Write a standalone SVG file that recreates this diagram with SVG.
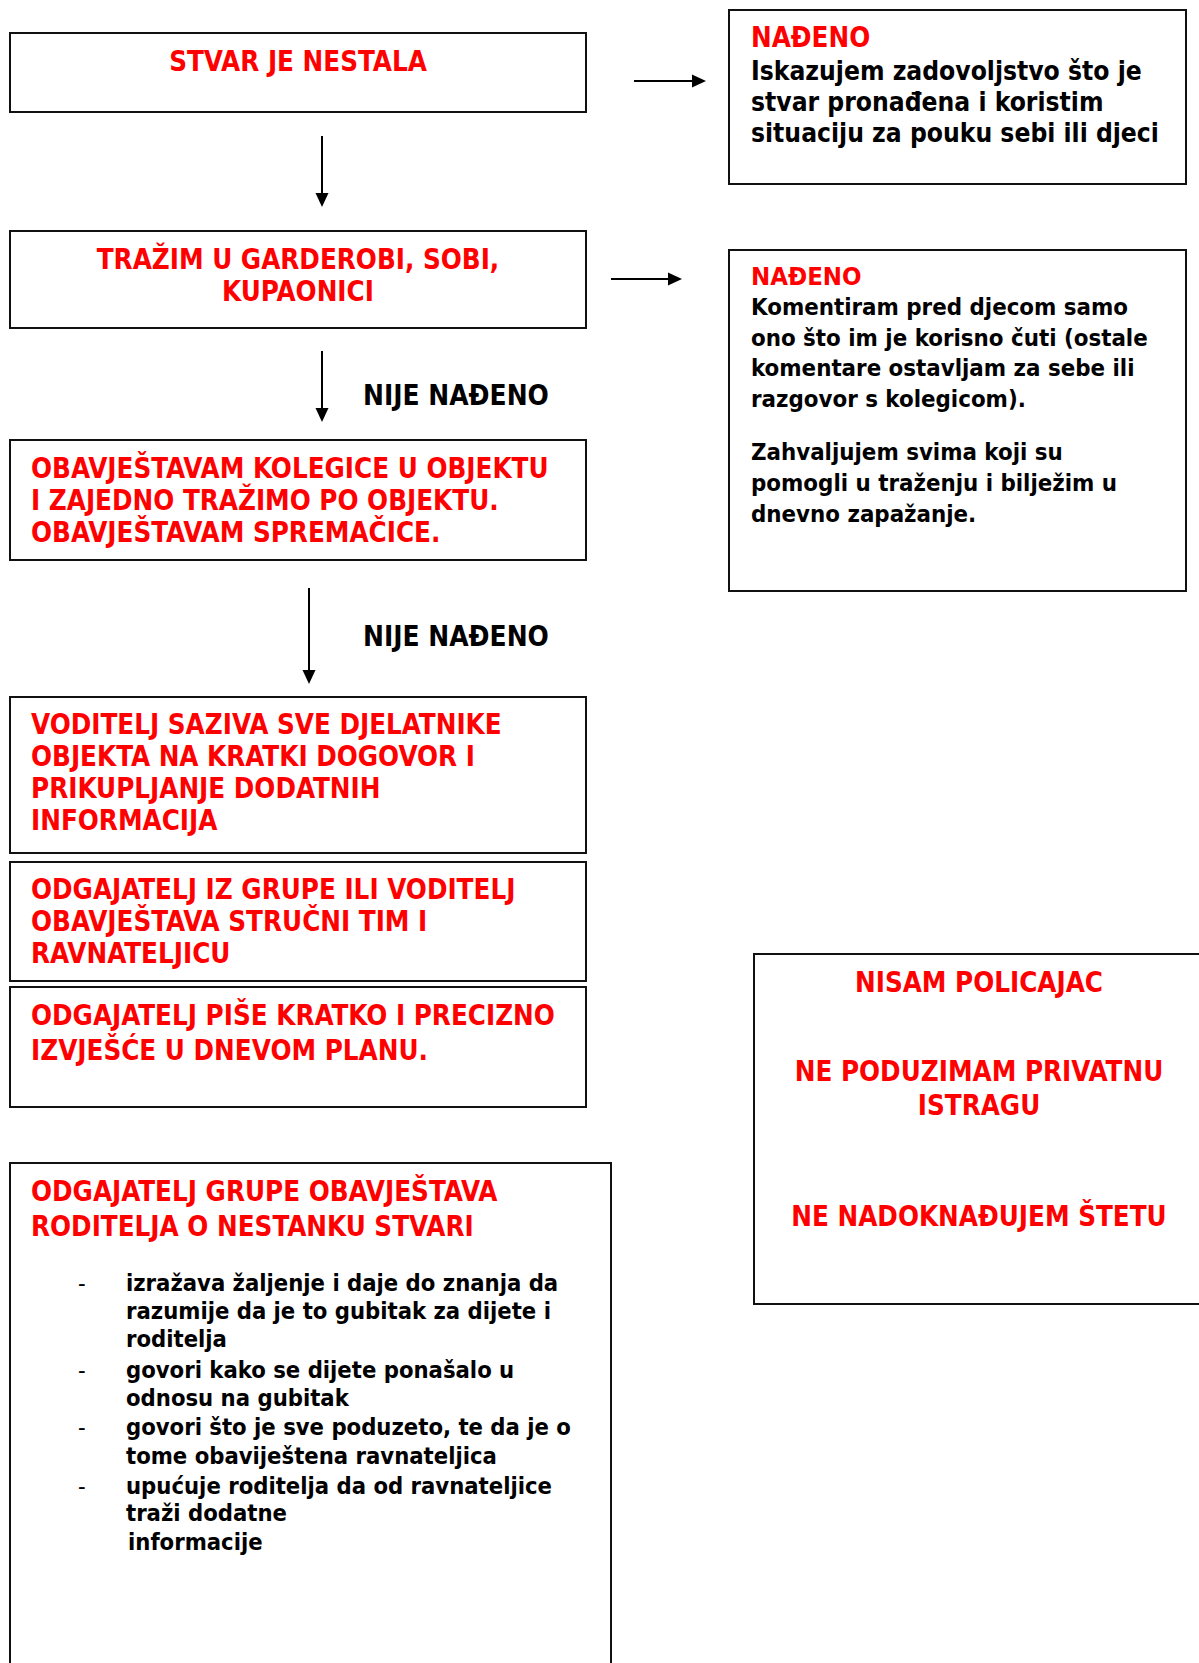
<svg xmlns="http://www.w3.org/2000/svg" width="1199" height="1663" viewBox="0 0 1199 1663">
<style>
text{font-family:"DejaVu Sans Condensed","DejaVu Sans","Liberation Sans",sans-serif;font-weight:bold;font-stretch:condensed}
.r{fill:#ff0000;font-size:27.5px}
.r2{fill:#ff0000;font-size:25.5px}
.k{fill:#000;font-size:26.2px}
.kl{fill:#000;font-size:27.8px}
.k2{fill:#000;font-size:23.8px}
.k3{fill:#000;font-size:23.6px}
.c{text-anchor:middle}
.box{fill:#fff;stroke:#111;stroke-width:2}
.ln{stroke:#000;stroke-width:2;fill:none}
</style>
<rect width="1199" height="1663" fill="#fff"/>
<g id="connectors">
<line class="ln" x1="322" y1="136" x2="322" y2="193"/>
<path d="M315.5,193 L328.5,193 L322,207 z" fill="#000"/>
<line class="ln" x1="634" y1="81" x2="692" y2="81"/>
<path d="M692,74.5 L706,81 L692,87.5 z" fill="#000"/>
<line class="ln" x1="611" y1="279" x2="668" y2="279"/>
<path d="M668,272.5 L682,279 L668,285.5 z" fill="#000"/>
<line class="ln" x1="322" y1="351" x2="322" y2="408"/>
<path d="M315.5,408 L328.5,408 L322,422 z" fill="#000"/>
<line class="ln" x1="309" y1="588" x2="309" y2="670"/>
<path d="M302.5,670 L315.5,670 L309,684 z" fill="#000"/>
</g>
<g id="n1">
<rect class="box" x="10" y="33" width="576" height="79"/>
<text class="r c" x="298" y="71">STVAR JE NESTALA</text>
</g>
<g id="n2">
<rect class="box" x="10" y="231" width="576" height="97"/>
<text class="r c" x="298" y="269">TRAŽIM U GARDEROBI, SOBI,</text>
<text class="r c" x="298" y="301">KUPAONICI</text>
</g>
<g id="lbl1"><text class="kl" x="363" y="405">NIJE NAĐENO</text></g>
<g id="n3">
<rect class="box" x="10" y="440" width="576" height="120"/>
<text class="r" x="31" y="478">OBAVJEŠTAVAM KOLEGICE U OBJEKTU</text>
<text class="r" x="31" y="510">I ZAJEDNO TRAŽIMO PO OBJEKTU.</text>
<text class="r" x="31" y="542">OBAVJEŠTAVAM SPREMAČICE.</text>
</g>
<g id="lbl2"><text class="kl" x="363" y="646">NIJE NAĐENO</text></g>
<g id="n4">
<rect class="box" x="10" y="697" width="576" height="156"/>
<text class="r" x="31" y="734">VODITELJ SAZIVA SVE DJELATNIKE</text>
<text class="r" x="31" y="766">OBJEKTA NA KRATKI DOGOVOR I</text>
<text class="r" x="31" y="798">PRIKUPLJANJE DODATNIH</text>
<text class="r" x="31" y="830">INFORMACIJA</text>
</g>
<g id="n5">
<rect class="box" x="10" y="862" width="576" height="119"/>
<text class="r" x="31" y="899">ODGAJATELJ IZ GRUPE ILI VODITELJ</text>
<text class="r" x="31" y="931">OBAVJEŠTAVA STRUČNI TIM I</text>
<text class="r" x="31" y="963">RAVNATELJICU</text>
</g>
<g id="n6">
<rect class="box" x="10" y="987" width="576" height="120"/>
<text class="r" x="31" y="1025">ODGAJATELJ PIŠE KRATKO I PRECIZNO</text>
<text class="r" x="31" y="1060">IZVJEŠĆE U DNEVOM PLANU.</text>
</g>
<g id="n7">
<rect class="box" x="10" y="1163" width="601" height="520"/>
<text class="r" x="31" y="1201">ODGAJATELJ GRUPE OBAVJEŠTAVA</text>
<text class="r" x="31" y="1236">RODITELJA O NESTANKU STVARI</text>
<text class="k3" x="78" y="1291" style="font-weight:normal">-</text>
<text class="k3" x="126" y="1291">izražava žaljenje i daje do znanja da</text>
<text class="k3" x="126" y="1319">razumije da je to gubitak za dijete i</text>
<text class="k3" x="126" y="1347">roditelja</text>
<text class="k3" x="78" y="1378" style="font-weight:normal">-</text>
<text class="k3" x="126" y="1378">govori kako se dijete ponašalo u</text>
<text class="k3" x="126" y="1406">odnosu na gubitak</text>
<text class="k3" x="78" y="1435" style="font-weight:normal">-</text>
<text class="k3" x="126" y="1435">govori što je sve poduzeto, te da je o</text>
<text class="k3" x="126" y="1464">tome obaviještena ravnateljica</text>
<text class="k3" x="78" y="1494" style="font-weight:normal">-</text>
<text class="k3" x="126" y="1494">upućuje roditelja da od ravnateljice</text>
<text class="k3" x="126" y="1521">traži dodatne</text>
<text class="k3" x="128" y="1550">informacije</text>
</g>
<g id="n8">
<rect class="box" x="729" y="10" width="457" height="174"/>
<text class="r" x="751" y="47">NAĐENO</text>
<text class="k" x="751" y="80">Iskazujem zadovoljstvo što je</text>
<text class="k" x="751" y="111">stvar pronađena i koristim</text>
<text class="k" x="751" y="142">situaciju za pouku sebi ili djeci</text>
</g>
<g id="n9">
<rect class="box" x="729" y="250" width="457" height="341"/>
<text class="r2" x="751" y="285">NAĐENO</text>
<text class="k2" x="751" y="315">Komentiram pred djecom samo</text>
<text class="k2" x="751" y="346">ono što im je korisno čuti (ostale</text>
<text class="k2" x="751" y="376">komentare ostavljam za sebe ili</text>
<text class="k2" x="751" y="407">razgovor s kolegicom).</text>
<text class="k2" x="751" y="460">Zahvaljujem svima koji su</text>
<text class="k2" x="751" y="491">pomogli u traženju i bilježim u</text>
<text class="k2" x="751" y="522">dnevno zapažanje.</text>
</g>
<g id="n10">
<rect class="box" x="754" y="954" width="460" height="350"/>
<text class="r c" x="979" y="992">NISAM POLICAJAC</text>
<text class="r c" x="979" y="1081">NE PODUZIMAM PRIVATNU</text>
<text class="r c" x="979" y="1115">ISTRAGU</text>
<text class="r c" x="979" y="1226">NE NADOKNAĐUJEM ŠTETU</text>
</g>
</svg>
